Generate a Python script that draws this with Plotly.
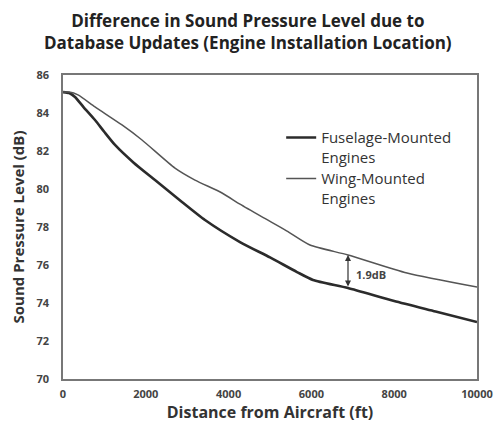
import numpy as np
import plotly.graph_objects as go

# Data
fuselage_x = [0, 150, 290, 500, 773, 1000, 1256, 1700, 2222, 2874, 3430, 4275, 5000, 5652, 6039, 6884, 8000, 9000, 10000]
fuselage_y = [85.1, 85.05, 84.84, 84.3, 83.63, 83.0, 82.32, 81.4, 80.47, 79.32, 78.37, 77.21, 76.4, 75.63, 75.21, 74.79, 74.1, 73.55, 73.0]

wing_x = [0, 150, 362, 773, 1425, 1908, 2705, 3188, 3841, 4275, 4807, 5400, 5966, 6884, 8309, 10000]
wing_y = [85.1, 85.1, 84.95, 84.32, 83.37, 82.58, 81.1, 80.47, 79.79, 79.2, 78.53, 77.8, 77.05, 76.53, 75.58, 74.84]

x_ticks = [0, 2000, 4000, 6000, 8000, 10000]
y_ticks = [70, 72, 74, 76, 78, 80, 82, 84, 86]

diff_x = 6884
diff_label = "1.9dB"
title_text = "Difference in Sound Pressure Level due to<br>Database Updates (Engine Installation Location)"

font_family = "Open Sans, Lato, sans-serif"

fig = go.Figure()
fig.add_trace(go.Scatter(x=fuselage_x, y=fuselage_y, mode="lines",
                         name="Fuselage-Mounted<br>Engines", legend="legend",
                         line=dict(color="#2b2b2b", width=2.6, shape="spline", smoothing=0.6)))
fig.add_trace(go.Scatter(x=wing_x, y=wing_y, mode="lines",
                         name="Wing-Mounted<br>Engines", legend="legend2",
                         line=dict(color="#555555", width=1.5, shape="spline", smoothing=0.6)))

y_top = float(np.interp(diff_x, wing_x, wing_y))
y_bot = float(np.interp(diff_x, fuselage_x, fuselage_y))

fig.add_annotation(x=diff_x, y=y_top, ax=diff_x, ay=y_bot, axref="x", ayref="y",
                   xref="x", yref="y", text="", showarrow=True,
                   arrowhead=2, startarrowhead=2, arrowside="end+start",
                   arrowsize=1, arrowwidth=1.2, arrowcolor="#333333",
                   standoff=0, startstandoff=0)
fig.add_annotation(x=diff_x, y=(y_top + y_bot) / 2, xref="x", yref="y",
                   text="<b>" + diff_label + "</b>", showarrow=False, xanchor="left", xshift=6, yshift=-3,
                   font=dict(family=font_family, size=11, color="#444444"))

# Title as a paper annotation, centred on the page
fig.add_annotation(x=0.4457, y=1, xref="paper", yref="paper", xanchor="center", yanchor="bottom",
                   yshift=19, showarrow=False, align="center",
                   text="<b>" + title_text + "</b>",
                   font=dict(family=font_family, size=17, color="#222222"))

legend_style = dict(xanchor="left", yanchor="top", bgcolor="rgba(0,0,0,0)", valign="top",
                    font=dict(family=font_family, size=15, color="#333333"))

fig.update_layout(
    width=495, height=433,
    margin=dict(l=63, r=18, t=75, b=54, autoexpand=False),
    paper_bgcolor="white", plot_bgcolor="white",
    font=dict(family=font_family, color="#333333"),
    showlegend=True,
    legend=dict(x=0.527, y=0.848, **legend_style),
    legend2=dict(x=0.527, y=0.713, **legend_style),
    xaxis=dict(range=[0, 10000], tickvals=x_ticks, ticktext=[f"<b>{v}</b>" for v in x_ticks],
               automargin=False,
               showgrid=False, zeroline=False, showline=True, linecolor="#777777", linewidth=1.5,
               mirror=True, ticks="", ticklabelstandoff=4, tickfont=dict(size=11, color="#444444"),
               title=dict(text="<b>Distance from Aircraft (ft)</b>", standoff=6,
                          font=dict(size=16, color="#333333"))),
    yaxis=dict(range=[70, 86], tickvals=y_ticks, ticktext=[f"<b>{v}</b>" for v in y_ticks],
               automargin=False,
               showgrid=False, zeroline=False, showline=True, linecolor="#777777", linewidth=1.5,
               mirror=True, ticks="", ticklabelstandoff=10, tickfont=dict(size=11, color="#444444"),
               title=dict(text="<b>Sound Pressure Level (dB)</b>", standoff=8,
                          font=dict(size=15, color="#333333"))),
)

fig.write_html("out.html", config={"displayModeBar": False},
               post_script="document.body.style.margin='0';document.body.style.overflow='hidden';")
